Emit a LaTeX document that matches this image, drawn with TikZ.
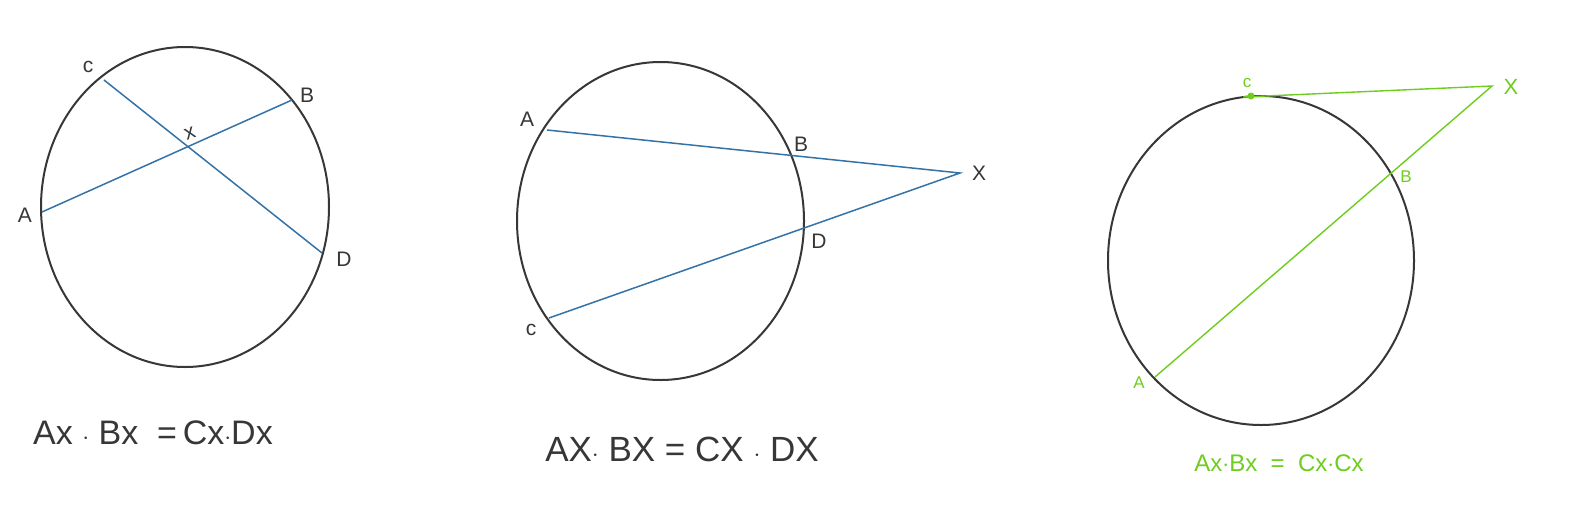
\documentclass[tikz,border=0pt]{standalone}
\usepackage{fontspec}
\setmainfont{Liberation Sans}
\definecolor{ink}{RGB}{55,55,55}
\definecolor{chord}{RGB}{52,115,168}
\definecolor{grn}{RGB}{110,205,30}
\begin{document}
\begin{tikzpicture}[x=1pt,y=-1pt,
  circ/.style={draw=ink,line width=2pt},
  seg/.style={draw=chord,line width=1.5pt},
  gseg/.style={draw=grn,line width=1.4pt},
  lab/.style={text=ink,font=\fontsize{21}{24}\selectfont,inner sep=0pt},
  glab/.style={text=grn,font=\fontsize{17}{20}\selectfont,inner sep=0pt},
  eq/.style={text=ink,inner sep=0pt}]
\useasboundingbox (0,0) rectangle (1578,525);
\fill[white] (0,0) rectangle (1578,525);
% circle 1
\draw[circ] (185,207) ellipse [x radius=144, y radius=160];
\coordinate (a1) at (42,212);
\coordinate (b1) at (292,100);
\coordinate (c1) at (104,80);
\coordinate (d1) at (322,253);
\draw[seg] (a1) -- (b1);
\draw[seg] (c1) -- (d1);
\node[lab] (la1) at (25,215) {A};
\node[lab] (lb1) at (307,95) {B};
\node[lab] (lc1) at (88,67) {c};
\node[lab] (ld1) at (344,259) {D};
\node[lab,rotate=20] (lx1) at (190,133) {x};
\node[eq,font=\fontsize{34}{38}\selectfont] (e1) at (153,433) {Ax $\cdot$ Bx \;=\,Cx$\cdot$Dx};
% circle 2
\draw[circ] (660.5,221) ellipse [x radius=143.5, y radius=159];
\coordinate (a2) at (547,130);
\coordinate (x2) at (960,173);
\coordinate (c2) at (549,318);
\draw[seg] (a2) -- (x2) -- (c2);
\node[lab] (la2) at (527,119) {A};
\node[lab] (lb2) at (801,144) {B};
\node[lab] (lc2) at (531,330) {c};
\node[lab] (ld2) at (819,241) {D};
\node[lab] (lx2) at (979,173) {X};
\node[eq,font=\fontsize{35}{40}\selectfont] (e2) at (682,449) {AX$\cdot$ BX = CX $\cdot$ DX};
% circle 3
\draw[circ] (1261,260.5) ellipse [x radius=153, y radius=164.5];
\coordinate (c3) at (1243,97);
\coordinate (x3) at (1492,86);
\coordinate (a3) at (1155,377);
\draw[gseg] (c3) -- (x3) -- (a3);
\fill[grn] (1251,96) circle (3.5);
\node[glab] (lc3) at (1247,83) {c};
\node[glab] (lb3) at (1406,177) {B};
\node[glab] (la3) at (1139,383) {A};
\node[glab,font=\fontsize{22}{24}\selectfont] (lx3) at (1511,87) {X};
\node[eq,text=grn,font=\fontsize{24}{28}\selectfont] (e3) at (1279,463) {Ax$\cdot$Bx \;=\; Cx$\cdot$Cx};
\end{tikzpicture}
\end{document}
